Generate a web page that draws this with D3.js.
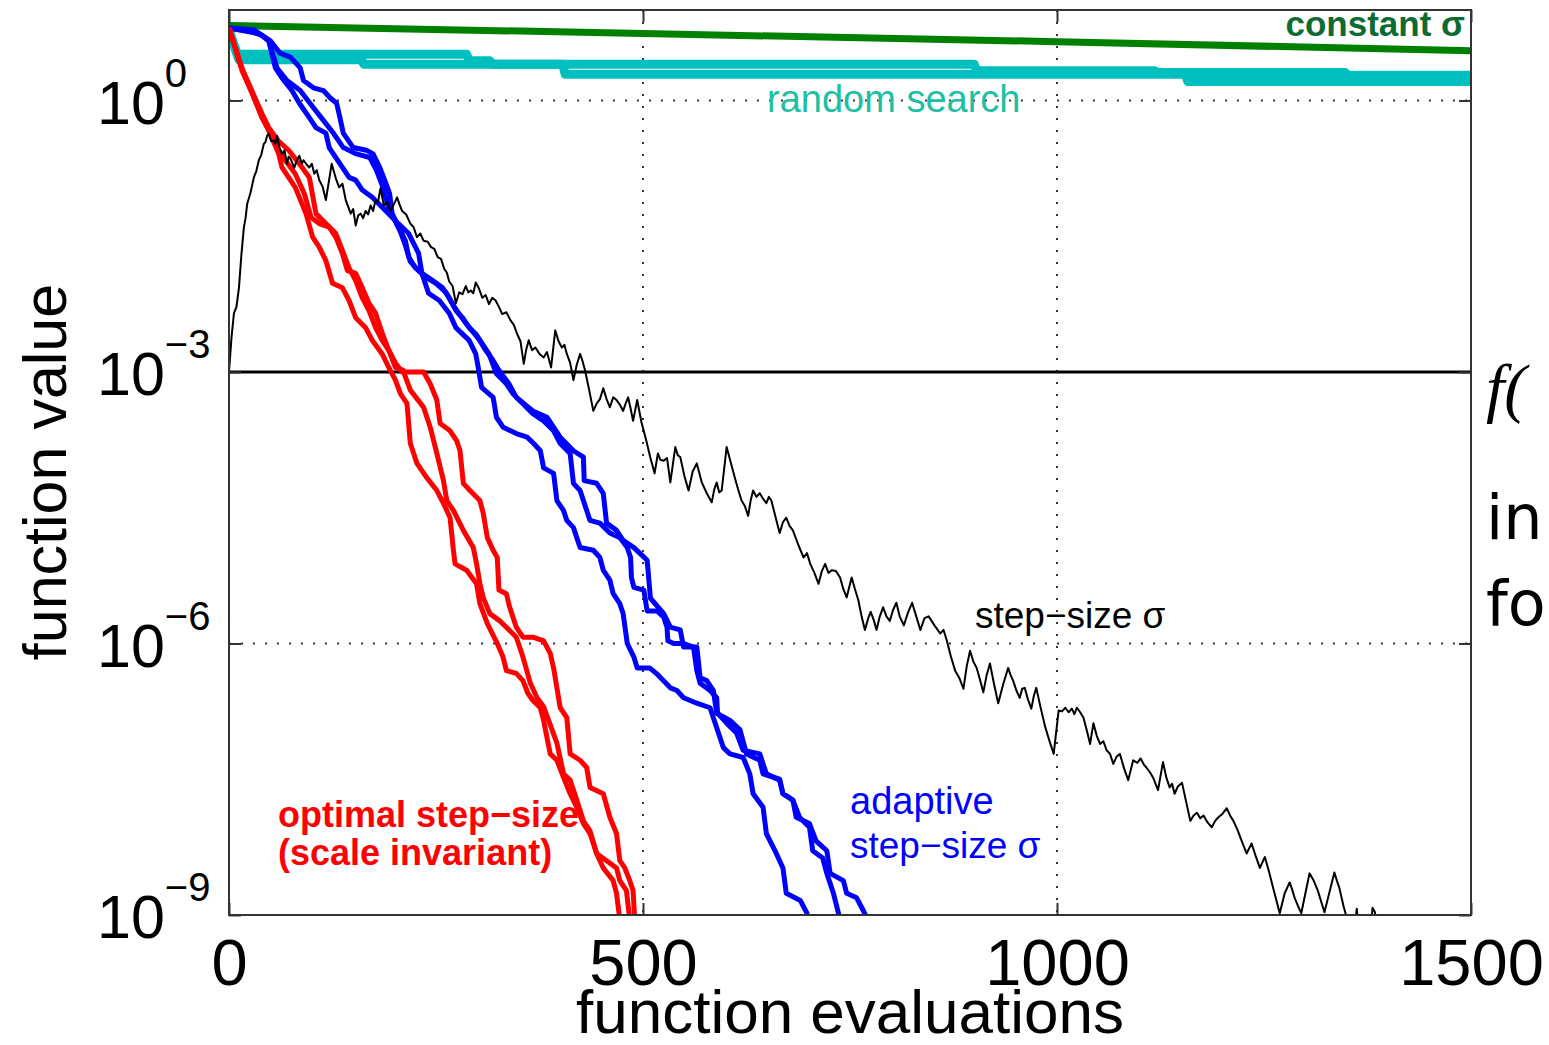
<!DOCTYPE html>
<html>
<head>
<meta charset="utf-8">
<script src="https://cdn.jsdelivr.net/npm/d3@7"></script>
<style>
  html, body { margin: 0; padding: 0; background: #fff; overflow: hidden; }
  svg { display: block; font-family: "Liberation Sans", Arial, Helvetica, sans-serif; }
</style>
</head>
<body>
<svg id="chart" width="1549" height="1045"></svg>
<script>
// values are [function evaluations, log10(function value)]
const xTicks = [0, 500, 1000, 1500];
const yTicks = [1e-9, 1e-6, 1e-3, 1e0];
const yTickExp = ["\u22129", "\u22126", "\u22123", "0"];
const xGrid = [500, 1000];
const yGrid = [1e0, 1e-6];
const targetF = 1e-3;

const constantSigma = [[0, 0.83], [500, 0.74], [1000, 0.65], [1500, 0.55]];

const randomA = [[0, 0.77], [10, 0.51], [287, 0.51], [290, 0.44], [315, 0.44], [318, 0.40],
  [900, 0.40], [903, 0.33], [1118, 0.33], [1121, 0.31], [1348, 0.31], [1351, 0.28], [1500, 0.28]];
const randomB = [[0, 0.77], [12, 0.45], [160, 0.45], [163, 0.40], [403, 0.40], [406, 0.29],
  [1155, 0.29], [1158, 0.21], [1500, 0.21]];

const adaptive1 = [[0, 0.8], [20, 0.78], [40, 0.72], [48, 0.66], [56, 0.36], [64, 0.25], [76, 0.11],
  [85, -0.03], [97, -0.19], [105, -0.30], [117, -0.36], [121, -0.52], [129, -0.63], [137, -0.74],
  [145, -0.85], [153, -0.88], [161, -0.99], [173, -1.07], [185, -1.18], [201, -1.33], [217, -1.47],
  [229, -1.69], [233, -1.91], [241, -2.13], [254, -2.21], [266, -2.35], [274, -2.51], [290, -2.65],
  [298, -2.80], [301, -2.95], [305, -3.17], [319, -3.28], [323, -3.50], [331, -3.61], [347, -3.68],
  [360, -3.72], [368, -3.79], [376, -3.87], [380, -4.06], [392, -4.12], [396, -4.42], [404, -4.53],
  [408, -4.64], [416, -4.72], [424, -4.94], [440, -4.97], [448, -5.05], [452, -5.19], [460, -5.30],
  [464, -5.45], [472, -5.56], [476, -5.67], [481, -6.00], [489, -6.15], [493, -6.27], [508, -6.27],
  [516, -6.33], [533, -6.49], [541, -6.52], [549, -6.60], [565, -6.66], [581, -6.71], [589, -6.93],
  [597, -7.15], [605, -7.22], [621, -7.26], [629, -7.44], [633, -7.66], [645, -7.81], [649, -8.10],
  [661, -8.32], [669, -8.48], [673, -8.76], [690, -8.84], [698, -8.98], [702, -9.3]];
const adaptive2 = [[0, 0.8], [30, 0.78], [50, 0.66], [62, 0.52], [74, 0.48], [86, 0.36], [90, 0.22],
  [102, 0.14], [114, 0.11], [122, 0.03], [130, -0.03], [134, -0.19], [138, -0.36], [150, -0.52],
  [166, -0.55], [174, -0.59], [182, -0.74], [188, -0.88], [194, -1.03], [197, -1.25], [205, -1.40],
  [213, -1.55], [217, -1.73], [225, -1.85], [233, -1.91], [246, -1.99], [258, -2.07], [266, -2.18],
  [274, -2.32], [282, -2.40], [290, -2.51], [298, -2.58], [306, -2.69], [314, -2.80], [323, -3.02],
  [335, -3.13], [343, -3.24], [355, -3.35], [367, -3.46], [380, -3.54], [392, -3.65], [400, -3.79],
  [412, -3.90], [416, -4.23], [424, -4.31], [432, -4.53], [436, -4.64], [448, -4.67], [460, -4.78],
  [472, -4.83], [481, -4.94], [485, -5.05], [486, -5.27], [489, -5.38], [501, -5.41], [505, -5.64],
  [517, -5.64], [525, -5.71], [529, -5.82], [530, -5.97], [537, -6.00], [549, -6.00], [561, -6.04],
  [565, -6.30], [569, -6.44], [581, -6.52], [589, -6.60], [590, -6.77], [601, -6.88], [613, -6.99],
  [621, -7.18], [641, -7.22], [649, -7.44], [665, -7.51], [669, -7.66], [681, -7.73], [689, -7.92],
  [701, -8.03], [705, -8.29], [717, -8.37], [722, -8.54], [730, -8.76], [738, -9.05], [740, -9.3]];
const adaptive3 = [[0, 0.8], [36, 0.74], [48, 0.66], [58, 0.36], [70, 0.22], [86, 0.11], [102, -0.08],
  [114, -0.22], [126, -0.36], [138, -0.52], [154, -0.59], [170, -0.63], [178, -0.77], [186, -0.96],
  [190, -1.10], [193, -1.20], [199, -1.30], [207, -1.45], [213, -1.60], [219, -1.78], [229, -1.88],
  [237, -1.95], [250, -2.02], [262, -2.12], [270, -2.25], [278, -2.36], [286, -2.46], [294, -2.55],
  [302, -2.64], [310, -2.76], [318, -2.86], [326, -2.98], [338, -3.13], [347, -3.28], [367, -3.43],
  [384, -3.50], [400, -3.72], [416, -3.87], [428, -3.94], [429, -4.20], [444, -4.23], [452, -4.34],
  [456, -4.67], [468, -4.75], [476, -4.86], [489, -4.94], [497, -5.01], [505, -5.08], [509, -5.50],
  [525, -5.67], [533, -5.82], [545, -5.85], [549, -6.04], [565, -6.04], [569, -6.38], [577, -6.41],
  [585, -6.52], [589, -6.77], [605, -6.85], [617, -6.95], [625, -7.22], [641, -7.29], [645, -7.44],
  [665, -7.50], [669, -7.66], [681, -7.73], [685, -7.92], [701, -7.99], [709, -8.18], [722, -8.29],
  [726, -8.54], [742, -8.62], [746, -8.76], [758, -8.81], [766, -8.95], [774, -9.1], [776, -9.3]];

const optimal1 = [[0, 0.8], [16, 0.33], [28, 0.08], [40, -0.19], [48, -0.33], [60, -0.59], [64, -0.74],
  [80, -0.96], [93, -1.25], [101, -1.51], [109, -1.62], [117, -1.77], [125, -2.02], [137, -2.07],
  [145, -2.21], [153, -2.40], [165, -2.51], [173, -2.65], [185, -2.80], [193, -2.95], [201, -3.09],
  [207, -3.24], [215, -3.35], [219, -3.79], [227, -4.01], [239, -4.17], [251, -4.31], [259, -4.45],
  [267, -4.61], [271, -4.97], [273, -5.12], [287, -5.19], [299, -5.34], [303, -5.56], [312, -5.78],
  [324, -6.00], [331, -6.15], [335, -6.30], [347, -6.33], [355, -6.41], [361, -6.55], [367, -6.63],
  [376, -6.71], [380, -6.85], [384, -7.04], [388, -7.22], [396, -7.29], [404, -7.48], [412, -7.66],
  [420, -7.81], [428, -7.99], [436, -8.10], [444, -8.32], [452, -8.48], [464, -8.62], [468, -8.76],
  [472, -9.05], [474, -9.3]];
const optimal2 = [[0, 0.8], [16, 0.33], [28, 0.08], [40, -0.19], [48, -0.33], [60, -0.55], [68, -0.66],
  [80, -0.81], [91, -1.03], [99, -1.29], [109, -1.36], [121, -1.40], [129, -1.51], [137, -1.69],
  [143, -1.88], [153, -1.91], [161, -2.07], [169, -2.24], [177, -2.35], [185, -2.57], [193, -2.76],
  [201, -2.95], [210, -2.98], [219, -3.20], [235, -3.39], [243, -3.61], [251, -3.90], [259, -4.20],
  [263, -4.42], [271, -4.53], [283, -4.75], [295, -4.94], [299, -5.12], [303, -5.34], [307, -5.49],
  [315, -5.67], [327, -5.75], [335, -5.82], [347, -5.93], [355, -6.15], [364, -6.44], [372, -6.60],
  [380, -6.70], [390, -6.95], [396, -7.10], [404, -7.44], [412, -7.51], [420, -7.73], [428, -7.96],
  [436, -8.07], [444, -8.32], [456, -8.40], [468, -8.48], [472, -8.62], [480, -8.73], [484, -9.05],
  [486, -9.3]];
const optimal3 = [[0, 0.8], [16, 0.35], [28, 0.10], [40, -0.15], [48, -0.30], [60, -0.45], [72, -0.55],
  [85, -0.70], [97, -0.85], [105, -1.25], [117, -1.36], [129, -1.47], [137, -1.66], [145, -1.85],
  [153, -1.99], [161, -2.18], [169, -2.32], [177, -2.51], [185, -2.65], [193, -2.76], [201, -2.90],
  [209, -3.00], [235, -3.00], [243, -3.13], [251, -3.31], [255, -3.57], [267, -3.65], [275, -3.76],
  [279, -3.87], [283, -4.23], [291, -4.31], [303, -4.42], [307, -4.56], [312, -4.83], [319, -4.97],
  [324, -5.05], [326, -5.41], [335, -5.45], [339, -5.60], [347, -5.82], [355, -5.93], [367, -5.93],
  [380, -5.97], [388, -6.11], [392, -6.27], [396, -6.49], [400, -6.71], [408, -6.82], [412, -7.22],
  [424, -7.29], [432, -7.37], [436, -7.59], [452, -7.66], [460, -7.92], [468, -8.10], [472, -8.40],
  [478, -8.48], [484, -8.62], [488, -8.73], [490, -9.05], [492, -9.3]];

const stepSigma = [[0, -3.0], [3, -2.62], [6, -2.35], [9, -2.28], [12, -2.07], [15, -1.70], [18, -1.40],
  [20, -1.30], [22, -1.14], [26, -1.02], [30, -0.85], [33, -0.78], [36, -0.66], [39, -0.60],
  [42, -0.48], [44, -0.46], [46, -0.39], [48, -0.37], [51, -0.45], [54, -0.44], [56, -0.48],
  [58, -0.39], [61, -0.52], [64, -0.59], [67, -0.55], [70, -0.70], [72, -0.62], [74, -0.64],
  [79, -0.74], [82, -0.66], [85, -0.61], [88, -0.70], [90, -0.66], [94, -0.71], [97, -0.74],
  [100, -0.70], [103, -0.81], [106, -0.77], [109, -0.88], [113, -0.95], [117, -1.10], [124, -0.70],
  [129, -0.86], [133, -0.96], [137, -0.92], [141, -1.10], [147, -1.25], [150, -1.20], [153, -1.38],
  [156, -1.27], [159, -1.25], [162, -1.30], [165, -1.22], [168, -1.26], [171, -1.16], [174, -1.22],
  [177, -1.10], [180, -1.12], [183, -0.97], [187, -1.16], [191, -1.12], [195, -1.22], [199, -1.15],
  [203, -1.07], [206, -1.15], [209, -1.22], [214, -1.26], [219, -1.36], [223, -1.40], [227, -1.51],
  [231, -1.47], [235, -1.55], [240, -1.56], [244, -1.62], [248, -1.64], [252, -1.73], [256, -1.75],
  [260, -1.86], [263, -1.90], [266, -2.00], [270, -2.05], [274, -2.24], [278, -2.12], [282, -2.14],
  [286, -2.05], [289, -2.12], [292, -2.10], [295, -2.13], [298, -2.01], [302, -2.08], [306, -2.18],
  [310, -2.15], [314, -2.25], [318, -2.18], [322, -2.21], [326, -2.28], [330, -2.36], [335, -2.34],
  [340, -2.43], [344, -2.48], [348, -2.58], [352, -2.66], [356, -2.91], [359, -2.75], [362, -2.65],
  [366, -2.76], [370, -2.73], [375, -2.80], [380, -2.84], [384, -2.78], [389, -2.95], [394, -2.54],
  [398, -2.66], [402, -2.73], [405, -2.70], [408, -2.80], [412, -2.90], [416, -3.09], [420, -2.92],
  [424, -2.80], [427, -2.88], [430, -2.98], [435, -3.20], [440, -3.43], [444, -3.35], [448, -3.30],
  [452, -3.18], [456, -3.30], [460, -3.39], [464, -3.28], [468, -3.31], [472, -3.36], [476, -3.43],
  [479, -3.35], [482, -3.28], [485, -3.40], [488, -3.54], [493, -3.31], [498, -3.55], [504, -3.76],
  [509, -3.95], [514, -4.12], [518, -3.90], [521, -3.97], [525, -3.98], [529, -3.95], [533, -4.22],
  [539, -3.83], [542, -3.92], [545, -3.94], [550, -4.15], [555, -4.31], [560, -4.10], [565, -4.01],
  [571, -4.22], [577, -4.34], [583, -4.44], [586, -4.30], [589, -4.22], [592, -4.33], [595, -4.31],
  [601, -3.83], [606, -4.00], [611, -4.17], [615, -4.30], [619, -4.42], [623, -4.48], [627, -4.59],
  [630, -4.42], [633, -4.31], [637, -4.38], [641, -4.34], [645, -4.40], [649, -4.45], [652, -4.38],
  [655, -4.42], [660, -4.60], [665, -4.78], [669, -4.66], [673, -4.61], [677, -4.70], [681, -4.75],
  [688, -4.92], [694, -5.05], [698, -5.00], [702, -5.12], [707, -5.22], [712, -5.34], [716, -5.20],
  [720, -5.12], [724, -5.22], [728, -5.19], [733, -5.20], [738, -5.27], [742, -5.40], [746, -5.49],
  [752, -5.27], [756, -5.40], [760, -5.52], [764, -5.70], [768, -5.85], [772, -5.72], [775, -5.65],
  [779, -5.75], [782, -5.85], [786, -5.70], [790, -5.60], [794, -5.70], [798, -5.75], [802, -5.63],
  [806, -5.55], [810, -5.70], [815, -5.80], [820, -5.66], [825, -5.55], [830, -5.70], [835, -5.85],
  [840, -5.72], [845, -5.70], [852, -5.80], [859, -5.89], [863, -5.85], [867, -5.97], [872, -6.15],
  [877, -6.30], [882, -6.38], [887, -6.50], [891, -6.25], [895, -6.08], [899, -6.20], [903, -6.27],
  [907, -6.40], [911, -6.54], [915, -6.35], [919, -6.22], [924, -6.45], [929, -6.66], [935, -6.45],
  [941, -6.27], [944, -6.35], [947, -6.41], [951, -6.52], [955, -6.60], [958, -6.50], [961, -6.49],
  [965, -6.62], [969, -6.72], [972, -6.58], [975, -6.49], [980, -6.70], [986, -6.93], [991, -7.08],
  [996, -7.22], [1002, -6.74], [1006, -6.75], [1010, -6.71], [1014, -6.76], [1018, -6.72],
  [1021, -6.78], [1024, -6.71], [1028, -6.76], [1032, -6.82], [1036, -6.96], [1040, -7.11],
  [1044, -6.88], [1048, -7.02], [1052, -7.11], [1056, -7.08], [1060, -7.18], [1064, -7.22],
  [1068, -7.33], [1072, -7.25], [1076, -7.22], [1081, -7.38], [1086, -7.51], [1092, -7.29],
  [1097, -7.32], [1101, -7.27], [1105, -7.34], [1108, -7.37], [1112, -7.42], [1116, -7.48],
  [1122, -7.62], [1128, -7.31], [1132, -7.48], [1136, -7.59], [1139, -7.55], [1142, -7.66],
  [1146, -7.58], [1151, -7.54], [1156, -7.75], [1161, -7.96], [1165, -7.90], [1169, -7.87],
  [1173, -7.93], [1177, -7.90], [1182, -7.98], [1187, -8.03], [1191, -7.96], [1195, -7.92],
  [1200, -7.88], [1205, -7.82], [1209, -7.90], [1213, -7.96], [1218, -8.06], [1223, -8.18],
  [1229, -8.32], [1235, -8.21], [1240, -8.35], [1245, -8.48], [1251, -8.36], [1256, -8.52],
  [1261, -8.70], [1265, -8.84], [1269, -8.98], [1275, -8.76], [1281, -8.64], [1284, -8.72],
  [1287, -8.81], [1291, -8.90], [1295, -8.98], [1300, -8.76], [1305, -8.54], [1310, -8.62],
  [1315, -8.73], [1319, -8.85], [1323, -8.97], [1329, -8.75], [1335, -8.53], [1338, -8.62],
  [1341, -8.70], [1346, -8.90], [1352, -9.10], [1358, -9.30], [1362, -8.93], [1366, -9.30],
  [1378, -9.30], [1381, -8.92], [1384, -8.97], [1387, -9.30]];

const svg = d3.select("#chart");
const plot = { left: 229, right: 1471, top: 10, bottom: 915 };

const x = d3.scaleLinear().domain([0, 1500]).range([plot.left, plot.right]);
const y = d3.scaleLog().domain([1e-9, 1e1]).range([plot.bottom, plot.top]);

svg.append("defs").append("clipPath").attr("id", "plotClip")
  .append("rect")
    .attr("x", plot.left).attr("y", plot.top)
    .attr("width", plot.right - plot.left).attr("height", plot.bottom - plot.top);

// dotted grid
const grid = svg.append("g")
    .attr("stroke", "#333")
    .attr("stroke-width", 2)
    .attr("stroke-dasharray", "2,10");
grid.selectAll("line.gx").data(xGrid).join("line")
    .attr("class", "gx")
    .attr("x1", d => x(d)).attr("x2", d => x(d))
    .attr("y1", plot.top).attr("y2", plot.bottom);
grid.selectAll("line.gy").data(yGrid).join("line")
    .attr("class", "gy")
    .attr("x1", plot.left).attr("x2", plot.right)
    .attr("y1", d => y(d)).attr("y2", d => y(d));

// target line f = 1e-3
svg.append("line")
    .attr("x1", plot.left).attr("x2", plot.right)
    .attr("y1", y(targetF)).attr("y2", y(targetF))
    .attr("stroke", "#000").attr("stroke-width", 3);

const line = d3.line()
    .x(d => x(d[0]))
    .y(d => y(10 ** d[1]));

const curves = svg.append("g").attr("clip-path", "url(#plotClip)")
    .attr("fill", "none")
    .attr("stroke-linejoin", "round");

const series = [
  { data: randomA, color: "#00bfbf", width: 9 },
  { data: randomB, color: "#00bfbf", width: 9 },
  { data: constantSigma, color: "#008000", width: 7 },
  { data: adaptive1, color: "#0000ff", width: 5 },
  { data: adaptive2, color: "#0000ff", width: 5 },
  { data: adaptive3, color: "#0000ff", width: 5 },
  { data: optimal1, color: "#ff0000", width: 5 },
  { data: optimal2, color: "#ff0000", width: 5 },
  { data: optimal3, color: "#ff0000", width: 5 },
  { data: stepSigma, color: "#000000", width: 2 }
];

curves.selectAll("path").data(series).join("path")
    .attr("d", d => line(d.data))
    .attr("stroke", d => d.color)
    .attr("stroke-width", d => d.width);

// axes: ticks point inwards on all four sides
const xAxis = svg.append("g")
    .attr("transform", `translate(0,${plot.bottom})`)
    .call(d3.axisBottom(x).tickValues(xTicks).tickSize(-12).tickPadding(24).tickFormat(d3.format("d")));
svg.append("g")
    .attr("transform", `translate(0,${plot.top})`)
    .call(d3.axisTop(x).tickValues(xTicks).tickSize(-12).tickFormat(""));
svg.append("g")
    .attr("transform", `translate(${plot.left},0)`)
    .call(d3.axisLeft(y).tickValues(yTicks).tickSize(-12).tickFormat(""));
svg.append("g")
    .attr("transform", `translate(${plot.right},0)`)
    .call(d3.axisRight(y).tickValues(yTicks).tickSize(-12).tickFormat(""));

svg.selectAll(".domain").remove();
svg.selectAll(".tick line").attr("stroke", "#333").attr("stroke-width", 2);

xAxis.selectAll("text")
    .attr("font-family", "Liberation Sans, Arial, sans-serif")
    .attr("font-size", 65)
    .attr("fill", "#000");

// frame
svg.append("rect")
    .attr("x", plot.left).attr("y", plot.top)
    .attr("width", plot.right - plot.left).attr("height", plot.bottom - plot.top)
    .attr("fill", "none").attr("stroke", "#333").attr("stroke-width", 2);

// y tick labels 10^k
const yLabels = svg.append("g").attr("fill", "#000");
yTicks.forEach((t, i) => {
  const txt = yLabels.append("text")
      .attr("x", 97)
      .attr("y", y(t) + 23)
      .attr("font-size", 61)
      .text("10");
  txt.append("tspan")
      .attr("dy", -37)
      .attr("font-size", 40)
      .text(yTickExp[i]);
});

// axis titles
svg.append("text")
    .attr("x", (plot.left + plot.right) / 2)
    .attr("y", 1033)
    .attr("text-anchor", "middle")
    .attr("font-size", 62)
    .text("function evaluations");

svg.append("text")
    .attr("transform", "translate(66,472) rotate(-90)")
    .attr("text-anchor", "middle")
    .attr("font-size", 61)
    .text("function value");

// curve annotations
const notes = [
  { text: "constant \u03c3", x: 1465, y: 36, color: "#0d6b32", weight: "bold", anchor: "end", size: 35 },
  { text: "random search", x: 767, y: 112, color: "#1fbfa3", weight: "normal", anchor: "start", size: 38 },
  { text: "step\u2212size \u03c3", x: 975, y: 628, color: "#000", weight: "normal", anchor: "start", size: 37 },
  { text: "adaptive", x: 850, y: 814, color: "#0000ff", weight: "normal", anchor: "start", size: 38 },
  { text: "step\u2212size \u03c3", x: 850, y: 858, color: "#0000ff", weight: "normal", anchor: "start", size: 37 },
  { text: "optimal step\u2212size", x: 278, y: 827, color: "#ff0000", weight: "bold", anchor: "start", size: 36 },
  { text: "(scale invariant)", x: 278, y: 865, color: "#ff0000", weight: "bold", anchor: "start", size: 36 }
];
svg.append("g").selectAll("text").data(notes).join("text")
    .attr("x", d => d.x).attr("y", d => d.y)
    .attr("fill", d => d.color)
    .attr("font-weight", d => d.weight)
    .attr("text-anchor", d => d.anchor)
    .attr("font-size", d => d.size)
    .text(d => d.text);

// slide text that is cut off at the right edge
svg.append("text")
    .attr("x", 1486).attr("y", 410)
    .attr("font-family", "Liberation Serif, serif")
    .attr("font-style", "italic")
    .attr("font-size", 66)
    .text("f(");
svg.append("text")
    .attr("x", 1486).attr("y", 539)
    .attr("font-family", "DejaVu Sans, sans-serif")
    .attr("font-size", 62)
    .text("in");
svg.append("text")
    .attr("x", 1486).attr("y", 625)
    .attr("font-family", "DejaVu Sans, sans-serif")
    .attr("font-size", 62)
    .text("fo");
</script>
</body>
</html>
